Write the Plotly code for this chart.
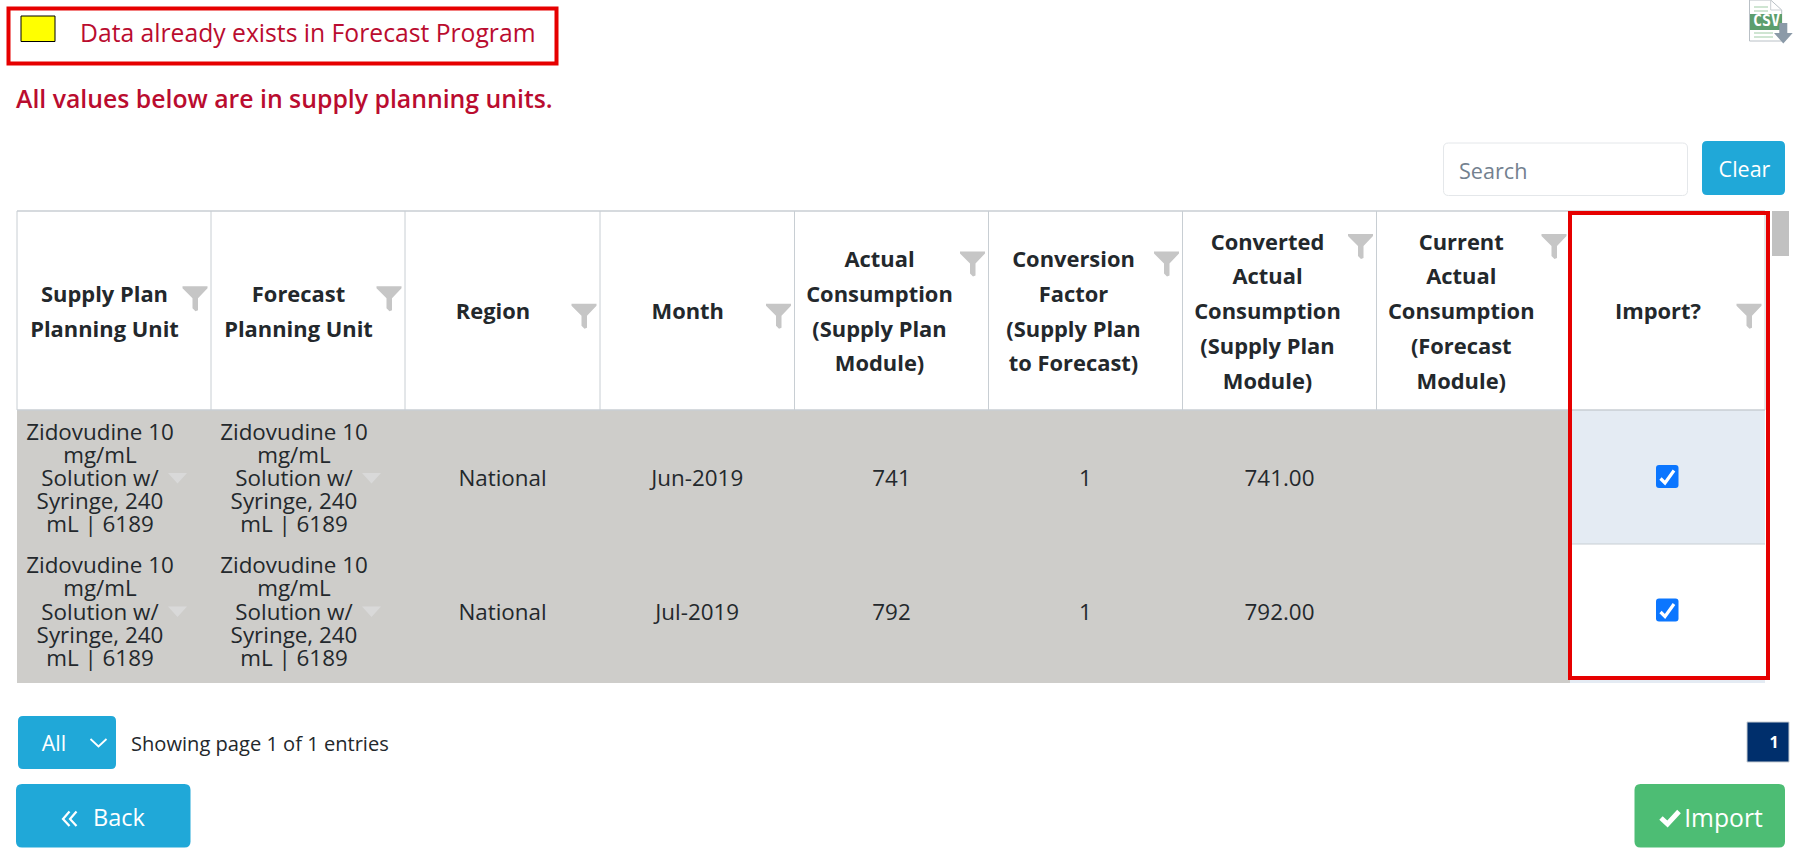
import plotly.graph_objects as go

# page text
legend_note = "Data already exists in Forecast Program"
units_note = "All values below are in supply planning units."
search_hint = "Search"
clear_label = "Clear"
pager_note = "Showing page 1 of 1 entries"
page_size = "All"
page_number = "1"

# table content
header_lines = [
    ["Supply Plan", "Planning Unit"],
    ["Forecast", "Planning Unit"],
    ["Region"],
    ["Month"],
    ["Actual", "Consumption", "(Supply Plan", "Module)"],
    ["Conversion", "Factor", "(Supply Plan", "to Forecast)"],
    ["Converted", "Actual", "Consumption", "(Supply Plan", "Module)"],
    ["Current", "Actual", "Consumption", "(Forecast", "Module)"],
    ["Import?"],
]
unit_lines = ["Zidovudine 10", "mg/mL", "Solution w/", "Syringe, 240", "mL | 6189"]
regions = ["National", "National"]
months = ["Jun-2019", "Jul-2019"]
actual = ["741", "792"]
factor = ["1", "1"]
converted = ["741.00", "792.00"]
current = ["", ""]

FONT = "Open Sans"
RED = "#e60000"
CRIMSON = "#ba0c2f"
BLUE = "#20a8d8"
INK = "#23282c"
GREY_ROW = "#cecdca"
GRID = "#c8ced3"

col_edges = [17, 211, 405, 600, 794.5, 988.5, 1182.5, 1376.5, 1570, 1765]
header_top, header_bottom = 211, 410
row_edges = [410, 544, 683]
row_mid = [478.5, 612]

fig = go.Figure()
shapes = []


def rect(x0, y0, x1, y1, fill="rgba(0,0,0,0)", line=None, width=1, layer="below"):
    shapes.append(dict(type="rect", xref="x", yref="y", x0=x0, y0=y0, x1=x1, y1=y1, fillcolor=fill,
                       line=dict(color=line or "rgba(0,0,0,0)", width=width if line else 0), layer=layer))


def round_rect(x0, y0, x1, y1, r, fill, line=None):
    p = (f"M{x0+r},{y0} L{x1-r},{y0} Q{x1},{y0} {x1},{y0+r} L{x1},{y1-r} Q{x1},{y1} {x1-r},{y1} "
         f"L{x0+r},{y1} Q{x0},{y1} {x0},{y1-r} L{x0},{y0+r} Q{x0},{y0} {x0+r},{y0} Z")
    shapes.append(dict(type="path", xref="x", yref="y", path=p, fillcolor=fill,
                       line=dict(color=line or "rgba(0,0,0,0)", width=1 if line else 0), layer="below"))


def poly(points, fill=None, line=None, width=1, closed=True, layer="below"):
    p = "M" + " L".join(f"{x},{y}" for x, y in points) + (" Z" if closed else "")
    shapes.append(dict(type="path", xref="x", yref="y", path=p, fillcolor=fill or "rgba(0,0,0,0)",
                       line=dict(color=line or "rgba(0,0,0,0)", width=width if line else 0), layer=layer))


def funnel(x, y, color="#c6c6c6"):
    poly([(x, y), (x + 25, y), (x + 25, y + 2), (x + 15.5, y + 12), (x + 15.5, y + 24),
          (x + 13, y + 25), (x + 10, y + 22), (x + 10, y + 12), (x, y + 2)], fill=color)


def text(x, y, s, size=22.4, color=INK, weight=400, pos="middle center", family=FONT):
    # +2: Open Sans sits a bit high compared to the reference
    fig.add_trace(go.Scatter(x=[x], y=[y + 2], mode="text", text=[s], textposition=pos, hoverinfo="skip",
                             textfont=dict(family=family, size=size, color=color, weight=weight)))


def checkbox(y):
    round_rect(1656, y, 1678.5, y + 23, 3, "#0b76ff")
    poly([(1660.5, y + 13.5), (1665, y + 18), (1674, y + 5.5)], line="white", width=3.2, closed=False)


# top note
rect(8.5, 8.5, 556.5, 63.5, line=RED, width=4)
rect(21, 16, 55, 41.5, fill="#ffff00", line="#000000", width=1)
text(80, 33.5, legend_note, size=24.7, color=CRIMSON, pos="middle right")
text(16, 100, units_note, size=24.8, color=CRIMSON, weight=600, pos="middle right")

# csv icon
poly([(1749.5, 0), (1770.7, 0), (1781.7, 10), (1781.7, 41), (1749.5, 41)], fill="#ffffff", line="#b9c0c6")
poly([(1770.7, 0), (1770.7, 10), (1781.7, 10)], line="#c9ced2", closed=False)
rect(1750, 14, 1782, 30, fill="#5c9e6d")
for yy in (6, 10, 32, 36):
    rect(1754, yy, 1768 if yy < 14 else 1773, yy + 2, fill="#cfe5d2")
text(1766.5, 20, "CSV", size=15, color="#ffffff", weight=700, family="DejaVu Sans Mono")
poly([(1779.3, 23), (1787.3, 23), (1787.3, 33), (1792.7, 33), (1783.3, 43.5), (1774, 33), (1779.3, 33)], fill="#8b9aa8")

# search + clear
round_rect(1443.5, 143, 1687.5, 195.5, 5, "#ffffff", "#e4e7ea")
text(1459, 171.5, search_hint, size=21.6, color="#73818f", pos="middle right")
round_rect(1702, 141, 1785, 195, 5, BLUE)
text(1744.5, 169.5, clear_label, size=21.5, color="#ffffff")

# table background
rect(col_edges[0], row_edges[0], col_edges[8], row_edges[2], fill=GREY_ROW)
rect(col_edges[8], row_edges[0], col_edges[9], row_edges[1], fill="#e4ebf3")
rect(col_edges[8], row_edges[1], col_edges[9], row_edges[2] - 3, fill="#ffffff")
rect(col_edges[8], row_edges[2] - 3, col_edges[9], row_edges[2], fill="#e4ebf3")
for xx in col_edges:
    shapes.append(dict(type="line", xref="x", yref="y", x0=xx, x1=xx, y0=header_top, y1=header_bottom,
                       line=dict(color=GRID, width=1), layer="below"))
for yy in (header_top, header_bottom):
    shapes.append(dict(type="line", xref="x", yref="y", x0=col_edges[0], x1=col_edges[9], y0=yy, y1=yy,
                       line=dict(color=GRID, width=1.5), layer="below"))
shapes.append(dict(type="line", xref="x", yref="y", x0=col_edges[8], x1=col_edges[9], y0=row_edges[1], y1=row_edges[1],
                   line=dict(color=GRID, width=1), layer="below"))
rect(1772, 211, 1789, 256, fill="#c1c1c1")

# header
head_mid = 311.7
for i, lines in enumerate(header_lines):
    mid = (col_edges[i] + col_edges[i + 1]) / 2 - (12 if len(lines) >= 4 else 9.5)
    first = head_mid - 34.8 * (len(lines) - 1) / 2
    for k, line in enumerate(lines):
        text(mid, first + 34.8 * k, line, size=21.9, weight=700)
    funnel(col_edges[i + 1] - 28.5, first - 8)

# rows
for r in range(2):
    for c in range(2):
        mid = (col_edges[c] + col_edges[c + 1]) / 2 - 14
        for k, line in enumerate(unit_lines):
            text(mid, row_mid[r] + 23.2 * (k - 2), line)
        tip = col_edges[c] + 151
        poly([(tip, row_mid[r] - 5.5), (tip + 19, row_mid[r] - 5.5), (tip + 9.5, row_mid[r] + 5)], fill="#d9d9d9")
    for c, col in enumerate([regions, months, actual, factor, converted, current]):
        if col[r]:
            text((col_edges[c + 2] + col_edges[c + 3]) / 2, row_mid[r], col[r])
    checkbox(row_mid[r] - 13.5)

rect(1570, 213, 1768, 678, line=RED, width=4, layer="above")

# pager
round_rect(18, 716, 116, 769, 5, BLUE)
text(54, 744, page_size, size=21.5, color="#ffffff")
poly([(90.5, 739), (98.5, 746.5), (106.5, 739)], line="#ffffff", width=1.8, closed=False)
text(131, 744, pager_note, size=20.1, pos="middle right")
rect(1747, 722, 1789, 762, fill="#002f6c", line="#c8ced3")
text(1774, 742, page_number, size=16, color="#ffffff", weight=700)

# buttons
round_rect(16, 784, 190.5, 847.5, 6, BLUE)
for xx in (63, 70):
    poly([(xx + 6.5, 811.5), (xx, 819), (xx + 6.5, 826)], line="#ffffff", width=2.2, closed=False)
text(119, 818.5, "Back", size=23.5, color="#ffffff")
round_rect(1634.5, 784, 1785, 847.5, 6, "#4dbd74")
poly([(1661, 818), (1667.5, 824), (1679, 811.5)], line="#ffffff", width=5, closed=False)
text(1723.5, 819, "Import", size=24.7, color="#ffffff")

fig.update_layout(
    width=1813,
    height=858,
    margin=dict(l=0, r=0, t=0, b=0),
    plot_bgcolor="#ffffff",
    paper_bgcolor="#ffffff",
    showlegend=False,
    shapes=shapes,
    xaxis=dict(range=[0, 1813], visible=False, fixedrange=True),
    yaxis=dict(range=[858, 0], visible=False, fixedrange=True),
)
fig.write_html("out.html", config=dict(displayModeBar=False),
               post_script="document.body.style.margin='0';document.body.style.overflow='hidden';")
